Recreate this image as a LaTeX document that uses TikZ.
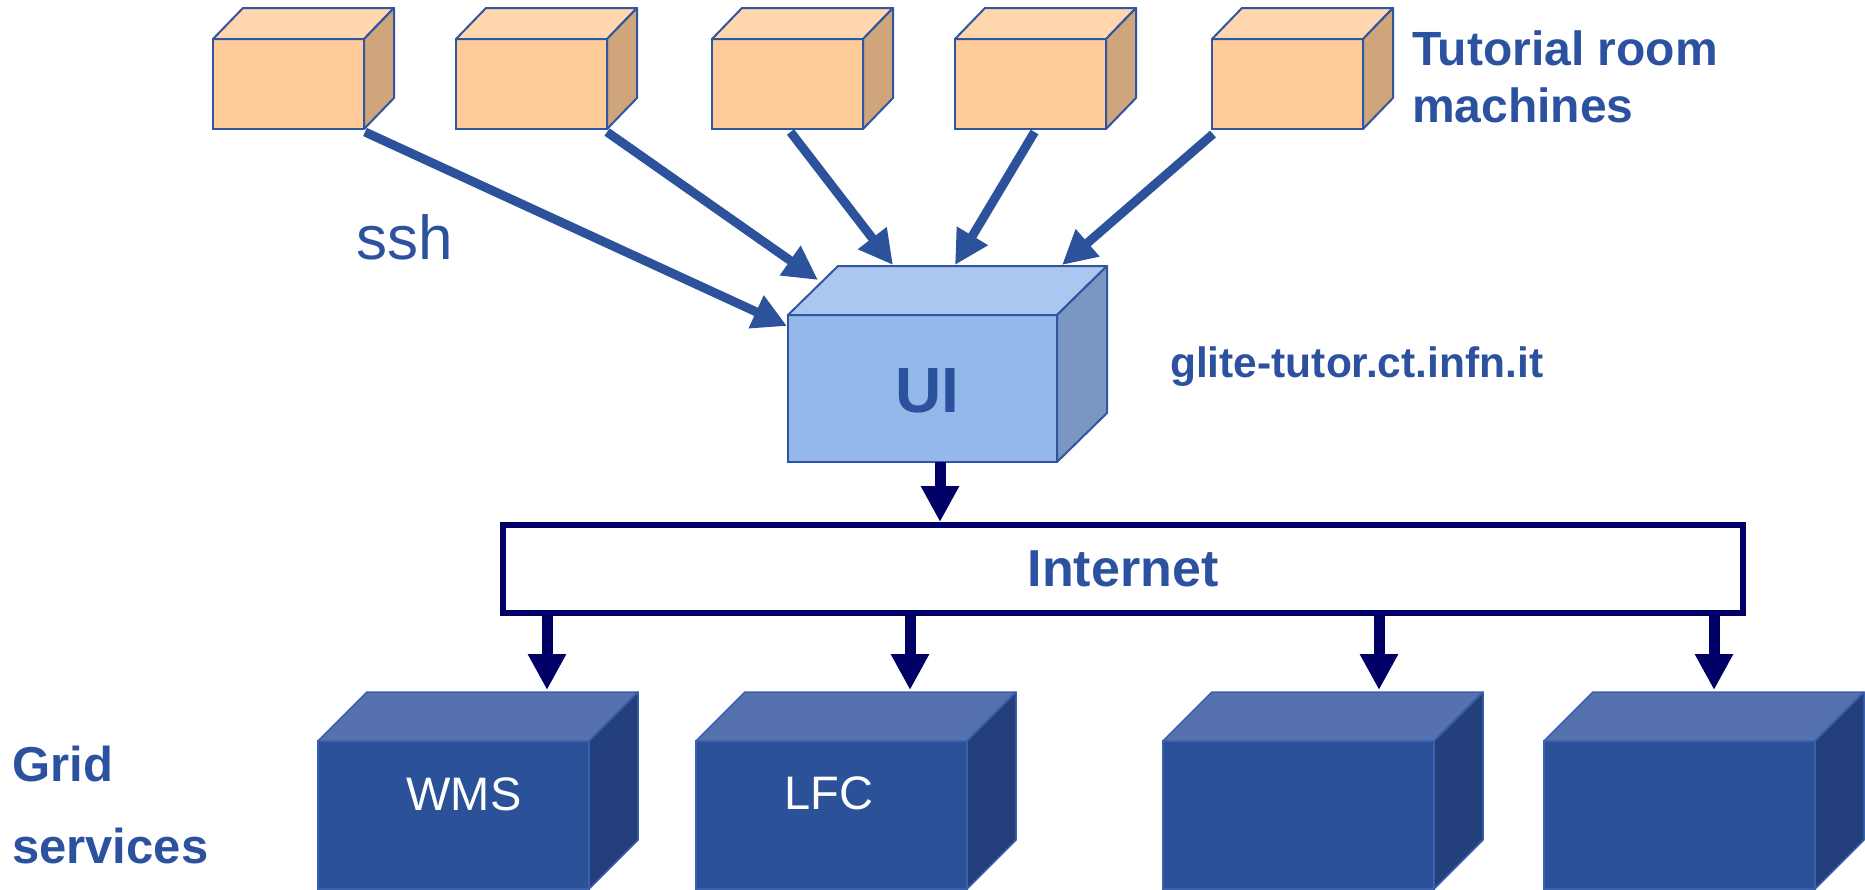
\documentclass[tikz,border=0pt]{standalone}
\usepackage{fontspec}
\setmainfont{Liberation Sans}
\usetikzlibrary{arrows.meta}
\definecolor{txtblue}{HTML}{2C529F}
\definecolor{arrblue}{HTML}{2C529C}
\definecolor{navy}{HTML}{000066}
\definecolor{edgeblue}{HTML}{2F56A0}
\definecolor{orfront}{HTML}{FECB99}
\definecolor{ortop}{HTML}{FFD6AD}
\definecolor{orside}{HTML}{CFA57B}
\definecolor{uifront}{HTML}{95B8EB}
\definecolor{uitop}{HTML}{ABC7F0}
\definecolor{uiside}{HTML}{7A97C1}
\definecolor{gfront}{HTML}{2B5299}
\definecolor{gtop}{HTML}{5572AE}
\definecolor{gside}{HTML}{233F7C}
\definecolor{gedge}{HTML}{3A60AC}
\tikzset{
  orbox/.style={draw=edgeblue, line width=2pt, fill=orfront, inner sep=0pt, outer sep=0pt},
  orbox top/.style={draw=edgeblue, line width=2pt, fill=ortop, line join=round},
  orbox side/.style={draw=edgeblue, line width=2pt, fill=orside, line join=round},
  uibox/.style={draw=edgeblue, line width=2pt, fill=uifront, inner sep=0pt, outer sep=0pt},
  uibox top/.style={draw=edgeblue, line width=2pt, fill=uitop, line join=round},
  uibox side/.style={draw=edgeblue, line width=2pt, fill=uiside, line join=round},
  gbox/.style={draw=gedge, line width=1.5pt, fill=gfront, inner sep=0pt, outer sep=0pt},
  gbox top/.style={draw=gedge, line width=1.5pt, fill=gtop, line join=round},
  gbox side/.style={draw=gedge, line width=1.5pt, fill=gside, line join=round},
  sshline/.style={draw=arrblue, line width=9pt, -{Triangle[length=34pt,width=34pt]}},
  netline/.style={draw=navy, line width=11pt, -{Triangle[length=36pt,width=36pt]}},
  inetbox/.style={draw=navy, line width=6pt, fill=white, inner sep=0pt,
    text=txtblue, font=\fontsize{52}{60}\selectfont\bfseries},
  boldlabel/.style={text=txtblue, inner sep=0pt, anchor=base west},
  srvlabel/.style={text=white, inner sep=0pt, anchor=base, font=\fontsize{47}{55}\selectfont},
}
\newcommand{\mkcuboid}[9]{%
  \node[#8, minimum width=#4pt, minimum height=#5pt, anchor=north west] (#1) at (#2,#3) {#9};
  \path[#8 top] (#1.north west) -- ++(#6,-#7) -- ++(#4,0) -- (#1.north east) -- cycle;
  \path[#8 side] (#1.north east) -- ++(#6,-#7) -- ++(0,#5) -- (#1.south east) -- cycle;
}
\begin{document}
\begin{tikzpicture}[x=1pt, y=-1pt]
\useasboundingbox (0,0) rectangle (1865,889);
\clip (0,0) rectangle (1865,889);

% tutorial room machines
\mkcuboid{m1}{213}{39}{151}{90}{30}{31}{orbox}{}
\mkcuboid{m2}{456}{39}{151}{90}{30}{31}{orbox}{}
\mkcuboid{m3}{712}{39}{151}{90}{30}{31}{orbox}{}
\mkcuboid{m4}{955}{39}{151}{90}{30}{31}{orbox}{}
\mkcuboid{m5}{1212}{39}{151}{90}{30}{31}{orbox}{}

\node[boldlabel, font=\fontsize{48}{56}\selectfont\bfseries] (tut1) at (1412,65) {Tutorial room};
\node[boldlabel, font=\fontsize{48}{56}\selectfont\bfseries] (tut2) at (1412,122) {machines};

% UI
\mkcuboid{ui}{788}{315}{269}{147}{50}{49}{uibox}{}
\node[text=txtblue, inner sep=0pt, anchor=base, font=\fontsize{64}{70}\selectfont\bfseries] (uilabel) at (927,412) {UI};
\node[boldlabel, font=\fontsize{42.5}{48}\selectfont\bfseries] (host) at (1170,377) {glite-tutor.ct.infn.it};

\node[boldlabel, font=\fontsize{62}{68}\selectfont] (ssh) at (356,259) {ssh};

% ssh arrows
\draw[sshline] ([shift={(1,3)}]m1.south east) -- ([shift={(-1,11)}]ui.north west);
\draw[sshline] ([shift={(0,3)}]m2.south east) -- ([shift={(30,-35)}]ui.north west);
\draw[sshline] ([shift={(3,3)}]m3.south) -- ([shift={(105,-50)}]ui.north west);
\draw[sshline] ([shift={(4,3)}]m4.south) -- ([shift={(167,-50)}]ui.north west);
\draw[sshline] ([shift={(1,5)}]m5.south west) -- ([shift={(274,-50)}]ui.north west);

% Internet
\node[inetbox, minimum width=1240pt, minimum height=88pt, anchor=north west] (inet) at (500,522) {Internet};
\coordinate (u0) at (940,462);
\draw[netline] (u0) -- (u0 |- inet.north);

% Grid services
\mkcuboid{g1}{318}{741}{271}{148}{49}{49}{gbox}{}
\mkcuboid{g2}{696}{741}{271}{148}{49}{49}{gbox}{}
\mkcuboid{g3}{1163}{741}{271}{148}{49}{49}{gbox}{}
\mkcuboid{g4}{1544}{741}{271}{148}{49}{49}{gbox}{}

\node[srvlabel] (wms) at (464,810) {WMS};
\node[srvlabel] (lfc) at (829,809) {LFC};

\coordinate (t1) at (547,690);
\coordinate (t2) at (910,690);
\coordinate (t3) at (1379,690);
\coordinate (t4) at (1714,690);
\draw[netline] (inet.south -| t1) -- (t1);
\draw[netline] (inet.south -| t2) -- (t2);
\draw[netline] (inet.south -| t3) -- (t3);
\draw[netline] (inet.south -| t4) -- (t4);

\node[boldlabel, font=\fontsize{49}{56}\selectfont\bfseries] (grid1) at (12,781) {Grid};
\node[boldlabel, font=\fontsize{49}{56}\selectfont\bfseries] (grid2) at (12,863) {services};
\end{tikzpicture}
\end{document}
